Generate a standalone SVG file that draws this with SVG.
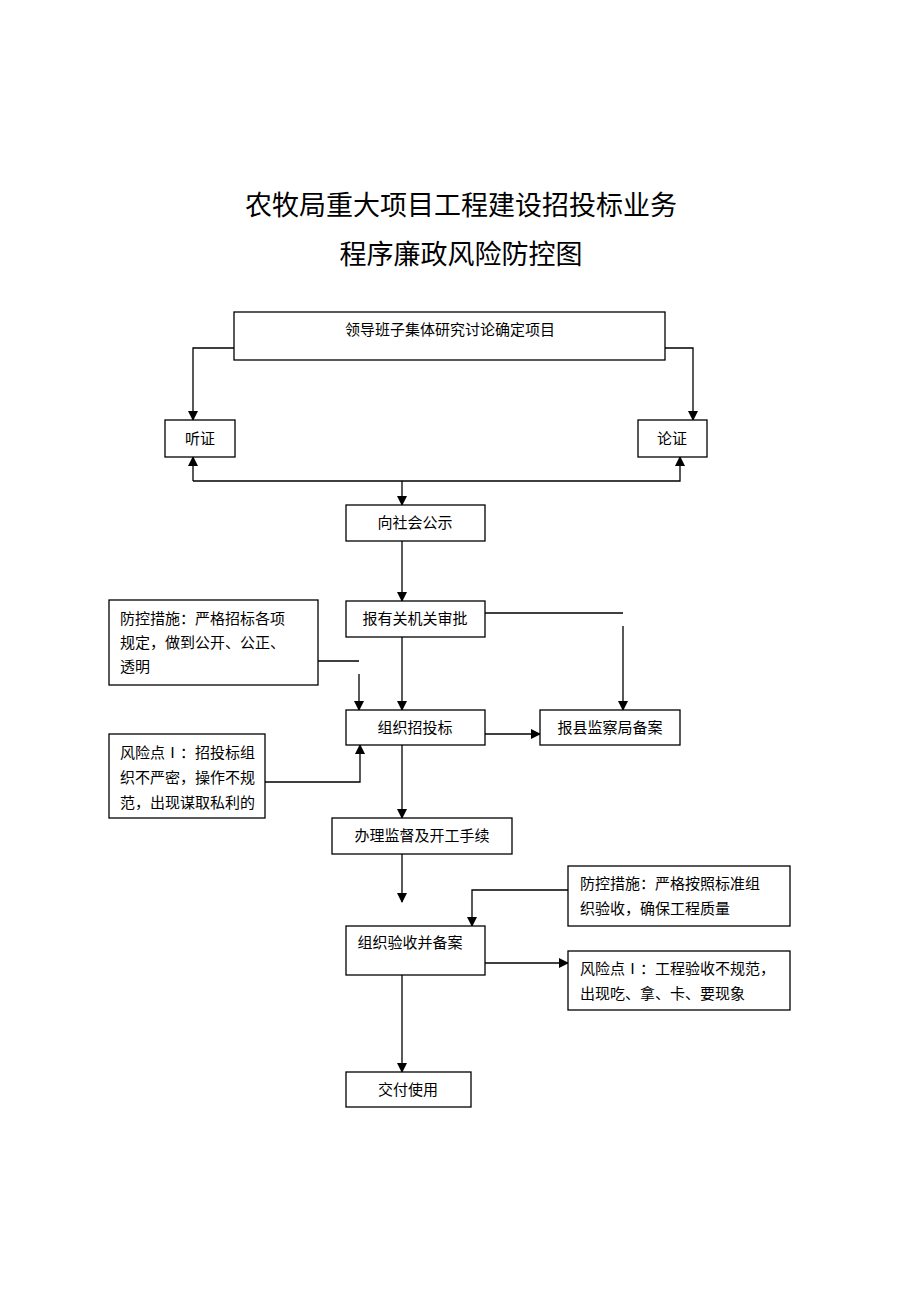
<svg xmlns="http://www.w3.org/2000/svg" width="920" height="1302" viewBox="0 0 920 1302">
<style>
.b{fill:#fff;stroke:#000;stroke-width:1.3}
.c{fill:none;stroke:#000;stroke-width:1.3}
text{font-family:"Liberation Serif","Noto Sans CJK SC",serif;font-size:15px;fill:#000}
.t{font-family:"Noto Sans CJK SC",sans-serif;font-size:27px;text-anchor:middle}
.m{text-anchor:middle}
</style>
<defs><marker id="a" markerWidth="10" markerHeight="10" refX="9" refY="5" orient="auto" markerUnits="userSpaceOnUse"><path d="M0,0L10,5L0,10z"/></marker></defs>
<rect width="920" height="1302" fill="#fff"/>
<text class="t" x="461" y="215">农牧局重大项目工程建设招投标业务</text>
<text class="t" x="461" y="264">程序廉政风险防控图</text>
<g id="connectors">
<path class="c" d="M234,348H193V420" marker-end="url(#a)"/>
<path class="c" d="M665,348H693V420" marker-end="url(#a)"/>
<path class="c" d="M193,481V457" marker-end="url(#a)"/>
<path class="c" d="M193,481H680V457" marker-end="url(#a)"/>
<path class="c" d="M402,481V505" marker-end="url(#a)"/>
<path class="c" d="M402,541V601" marker-end="url(#a)"/>
<path class="c" d="M485,613H623"/>
<path class="c" d="M623,626V710" marker-end="url(#a)"/>
<path class="c" d="M402,637V710" marker-end="url(#a)"/>
<path class="c" d="M318,661H359"/>
<path class="c" d="M359,674V710" marker-end="url(#a)"/>
<path class="c" d="M265,782H360V745" marker-end="url(#a)"/>
<path class="c" d="M485,734H540" marker-end="url(#a)"/>
<path class="c" d="M402,745V818" marker-end="url(#a)"/>
<path class="c" d="M402,854V902" marker-end="url(#a)"/>
<path class="c" d="M568,890H472V926" marker-end="url(#a)"/>
<path class="c" d="M485,963H568" marker-end="url(#a)"/>
<path class="c" d="M402,975V1072" marker-end="url(#a)"/>
</g>
<g id="n1"><rect class="b" x="234" y="312" width="431" height="48"/><text class="m" x="450" y="335">领导班子集体研究讨论确定项目</text></g>
<g id="n2"><rect class="b" x="165" y="420" width="70" height="37"/><text class="m" x="200" y="444">听证</text></g>
<g id="n3"><rect class="b" x="638" y="420" width="69" height="37"/><text class="m" x="672" y="444">论证</text></g>
<g id="n4"><rect class="b" x="346" y="505" width="139" height="36"/><text class="m" x="415" y="528">向社会公示</text></g>
<g id="n5"><rect class="b" x="346" y="601" width="139" height="36"/><text class="m" x="415" y="624">报有关机关审批</text></g>
<g id="n6"><rect class="b" x="109" y="600" width="209" height="85"/><text x="120" y="624">防控措施：严格招标各项</text><text x="120" y="648">规定，做到公开、公正、</text><text x="120" y="672">透明</text></g>
<g id="n7"><rect class="b" x="346" y="710" width="139" height="35"/><text class="m" x="415" y="733">组织招投标</text></g>
<g id="n8"><rect class="b" x="540" y="710" width="140" height="35"/><text class="m" x="610" y="733">报县监察局备案</text></g>
<g id="n9"><rect class="b" x="109" y="734" width="156" height="84"/><text x="120" y="758">风险点Ⅰ：招投标组</text><text x="120" y="783">织不严密，操作不规</text><text x="120" y="808">范，出现谋取私利的</text></g>
<g id="n10"><rect class="b" x="332" y="818" width="180" height="36"/><text class="m" x="422" y="841">办理监督及开工手续</text></g>
<g id="n11"><rect class="b" x="568" y="866" width="222" height="60"/><text x="580" y="889">防控措施：严格按照标准组</text><text x="580" y="914">织验收，确保工程质量</text></g>
<g id="n12"><rect class="b" x="346" y="926" width="139" height="49"/><text class="m" x="410" y="948">组织验收并备案</text></g>
<g id="n13"><rect class="b" x="568" y="951" width="222" height="59"/><text x="580" y="974">风险点Ⅰ：工程验收不规范，</text><text x="580" y="999">出现吃、拿、卡、要现象</text></g>
<g id="n14"><rect class="b" x="346" y="1072" width="125" height="35"/><text class="m" x="408" y="1095">交付使用</text></g>
</svg>
